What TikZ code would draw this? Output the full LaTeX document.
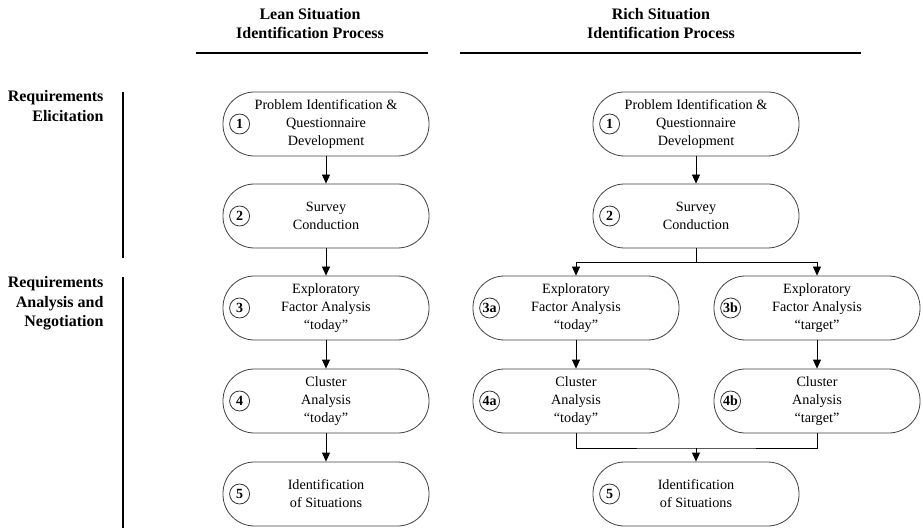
\documentclass[tikz,border=0pt]{standalone}
\usepackage{fontspec}
\setmainfont{Liberation Serif}
\usetikzlibrary{arrows.meta}
\begin{document}
\begin{tikzpicture}[x=1pt,y=-1pt,
  proc/.style={draw=black!75,line width=0.8pt,rounded corners=31.5pt,minimum width=206pt,minimum height=64pt,
    align=center,font=\fontsize{14.2}{18}\selectfont,inner sep=0pt},
  num/.style={draw=black!80,line width=0.8pt,circle,minimum size=20pt,inner sep=0pt,font=\fontsize{14}{14}\selectfont\bfseries},
  hdr/.style={align=center,font=\fontsize{16}{19}\selectfont\bfseries},
  side/.style={align=right,font=\fontsize{16}{19.5}\selectfont\bfseries,anchor=north east},
  rule/.style={line width=2.4pt},
  link/.style={line width=0.8pt},
  arr/.style={link,-{Triangle[length=9pt,width=8pt]}}
]
\useasboundingbox (0,0) rectangle (923,529);
% headers
\node[hdr] (hL) at (310,24) {Lean Situation\\Identification Process};
\node[hdr] (hR) at (661,24) {Rich Situation\\Identification Process};
\draw[rule] (196,53) -- (428,53);
\draw[rule] (460,53) -- (861,53);
% side labels
\node[side] (sE) at (107,87) {Requirements\\Elicitation};
\node[side] (sA) at (107,273) {Requirements\\Analysis and\\Negotiation};
\draw[rule] (123,92) -- (123,258);
\draw[rule] (123,277) -- (123,528);
% left column
\node[proc] (L1) at (326,124) {Problem Identification \&\\Questionnaire\\Development};
\node[proc] (L2) at (326,216) {Survey\\Conduction};
\node[proc] (L3) at (326,308) {Exploratory\\Factor Analysis\\``today''};
\node[proc] (L4) at (326,401) {Cluster\\Analysis\\``today''};
\node[proc] (L5) at (326,494) {Identification\\of Situations};
\foreach \n/\t in {L1/1,L2/2,L3/3,L4/4,L5/5}
  \node[num] (c\n) at ([xshift=17pt]\n.west) {\t};
\draw[arr] (L1) -- (L2);
\draw[arr] (L2) -- (L3);
\draw[arr] (L3) -- (L4);
\draw[arr] (L4) -- (L5);
% right column
\node[proc] (R1) at (696,124) {Problem Identification \&\\Questionnaire\\Development};
\node[proc] (R2) at (696,216) {Survey\\Conduction};
\node[proc] (R3a) at (576,308) {Exploratory\\Factor Analysis\\``today''};
\node[proc] (R3b) at (817,308) {Exploratory\\Factor Analysis\\``target''};
\node[proc] (R4a) at (576,401) {Cluster\\Analysis\\``today''};
\node[proc] (R4b) at (817,401) {Cluster\\Analysis\\``target''};
\node[proc] (R5) at (696,494) {Identification\\of Situations};
\foreach \n/\t in {R1/1,R2/2,R3a/3a,R3b/3b,R4a/4a,R4b/4b,R5/5}
  \node[num] (c\n) at ([xshift=17pt]\n.west) {\t};
\coordinate (split) at (696,262);
\coordinate (merge) at (696,448);
\draw[arr] (R1) -- (R2);
\draw[link] (R2.south) -- (split);
\draw[arr] (split) -| (R3a.north);
\draw[arr] (split) -| (R3b.north);
\draw[arr] (R3a) -- (R4a);
\draw[arr] (R3b) -- (R4b);
\draw[link] (R4a.south) |- (merge) -| (R4b.south);
\draw[arr] (merge) -- (R5.north);
\end{tikzpicture}
\end{document}
